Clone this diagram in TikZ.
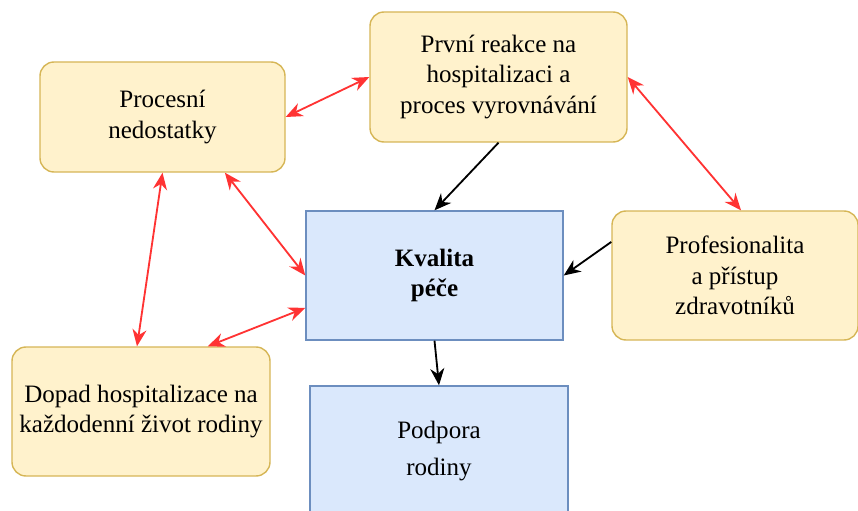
\documentclass[tikz,border=0pt]{standalone}
\usepackage{fontspec}
\setmainfont{Liberation Serif}
\usetikzlibrary{arrows.meta}
\definecolor{boxYellow}{RGB}{255,242,204}
\definecolor{lineYellow}{RGB}{214,182,86}
\definecolor{boxBlue}{RGB}{218,232,252}
\definecolor{lineBlue}{RGB}{108,142,191}
\definecolor{arrowRed}{RGB}{255,51,51}

\begin{document}
\begin{tikzpicture} [
	theme/.style = {rectangle, rounded corners = 0.35cm, draw = lineYellow, fill = boxYellow, line width = 1pt, align = center, font = \fontsize{17.8}{21.5}\selectfont, inner sep = 0pt},
	core/.style = {rectangle, draw = lineBlue, fill = boxBlue, line width = 1pt, align = center, font = \fontsize{17.8}{21.5}\selectfont, inner sep = 0pt},
	link/.style = {arrowRed, line width = 1.3pt, {Stealth[length = 12pt, width = 10pt]}-{Stealth[length = 12pt, width = 10pt]}},
	effect/.style = {black, line width = 1.3pt, -{Stealth[length = 12pt, width = 10pt]}}
	]

	\useasboundingbox (0, 0) rectangle (21.45, 12.75);

		% Draw boxes.

	%themes
	\node [theme, minimum width = 6.125cm, minimum height = 2.75cm] (proc) at (4.0625, 9.825) {Procesní\\nedostatky};
	\node [theme, minimum width = 6.425cm, minimum height = 3.25cm] (reakce) at (12.4625, 10.825) {První reakce na\\hospitalizaci a\\proces vyrovnávání};
	\node [theme, minimum width = 6.15cm, minimum height = 3.225cm] (prof) at (18.375, 5.8625) {Profesionalita\\a přístup\\zdravotníků};
	\node [theme, minimum width = 6.45cm, minimum height = 3.225cm] (dopad) at (3.525, 2.4625) {Dopad hospitalizace na\\každodenní život rodiny};

	%core
	\node [core, minimum width = 6.425cm, minimum height = 3.225cm] (kval) at (10.8625, 5.8625) {\textbf{Kvalita}\\\textbf{péče}};
	\node [core, minimum width = 6.45cm, minimum height = 3.25cm] (podp) at (10.975, 1.475) {Podpora\\[5pt]rodiny};

% Draw links.

	\draw[link] (proc.east) -- (reakce.west);
	\draw[link] (reakce.east) -- ([xshift = 0.15cm]prof.north);
	\draw[link] (proc.south) -- ([xshift = -0.1cm]dopad.north);
	\draw[link] ([xshift = 1.56cm]proc.south) -- (kval.west);
	\draw[link] ([xshift = 1.67cm]dopad.north) -- ([yshift = -0.81cm]kval.west);

% Draw effects.

	\draw[effect] (reakce.south) -- (kval.north);
	\draw[effect] ([yshift = 0.84cm]prof.west) -- (kval.east);
	\draw[effect] (kval.south) -- (podp.north);

\end{tikzpicture}
\end{document}
